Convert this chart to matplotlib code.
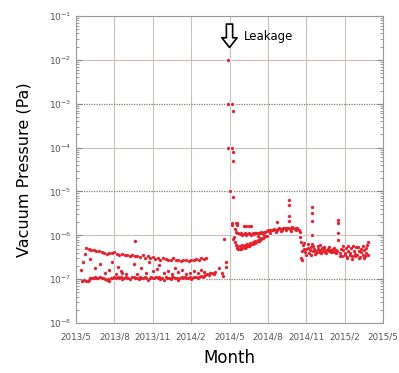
import numpy as np
import matplotlib
matplotlib.use('Agg')
import matplotlib.pyplot as plt

# x values are months counted from 2013/5, y values in Pa
tick_labels = ['2013/5', '2013/8', '2013/11', '2014/2', '2014/5',
               '2014/8', '2014/11', '2015/2', '2015/5']

# ---------------------------------------------------- first year, lower band (x1e-7)
low_m = [0.5, 0.6, 0.75, 0.9, 1.0, 1.1, 1.25, 1.4, 1.5, 1.6, 1.75, 1.9, 2.0, 2.1, 2.25,
         2.4, 2.5, 2.6, 2.75, 2.9, 3.0, 3.1, 3.25, 3.4, 3.5, 3.6, 3.75, 3.9, 4.0, 4.1,
         4.25, 4.4, 4.5, 4.6, 4.75, 4.9, 5.0, 5.1, 5.25, 5.4, 5.5, 5.6, 5.75, 5.9, 6.0,
         6.1, 6.25, 6.4, 6.5, 6.6, 6.75, 6.9, 7.0, 7.1, 7.25, 7.4, 7.5, 7.6, 7.75, 7.9,
         8.0, 8.1, 8.25, 8.4, 8.5, 8.6, 8.75, 8.9, 9.0, 9.1, 9.25, 9.4, 9.5, 9.6, 9.75,
         9.9, 10.0, 10.1, 10.25, 10.4, 10.5, 10.6, 10.75]
low_v = [0.92, 0.95, 0.9, 0.93, 0.97, 1.05, 1.08, 1.07, 1.1, 1.08, 1.06, 1.1, 1.07, 1.05,
         1.0, 0.95, 1.02, 0.9, 1.05, 1.08, 1.1, 1.04, 1.12, 1.06, 1.1, 1.0, 1.08, 1.1,
         1.05, 1.07, 1.02, 1.1, 1.12, 1.08, 1.05, 1.0, 1.1, 1.06, 1.08, 1.12, 1.04, 0.98,
         1.07, 1.1, 1.05, 1.08, 1.1, 1.06, 1.12, 1.02, 1.08, 0.95, 1.1, 1.05, 1.08, 1.0,
         1.1, 1.12, 1.06, 1.08, 0.97, 1.05, 1.1, 1.07, 1.12, 1.04, 1.08, 1.1, 1.02, 1.06,
         1.1, 1.12, 1.05, 1.15, 1.2, 1.1, 1.18, 1.25, 1.3, 1.22, 1.35, 1.4, 1.3]

# ---------------------------------------------------- first year, upper band (x1e-7)
up_m = [0.8, 1.0, 1.2, 1.4, 1.6, 1.8, 2.0, 2.2, 2.4, 2.6, 2.8, 3.0, 3.2, 3.4, 3.6, 3.8,
        4.0, 4.2, 4.4, 4.6, 4.8, 5.0, 5.2, 5.4, 5.6, 5.8, 6.0, 6.2, 6.4, 6.6, 6.8, 7.0,
        7.2, 7.4, 7.6, 7.8, 8.0, 8.2, 8.4, 8.6, 8.8, 9.0, 9.2, 9.4, 9.6, 9.8, 10.0, 10.2]
up_v = [5.2, 4.9, 4.7, 4.6, 4.5, 4.3, 4.2, 4.0, 3.8, 4.0, 3.9, 4.1, 3.7, 3.6, 3.8, 3.5,
        3.6, 3.4, 3.5, 3.3, 3.4, 3.2, 3.6, 3.1, 3.3, 3.0, 3.2, 2.9, 3.1, 2.8, 3.0, 2.9,
        2.7, 2.8, 3.0, 2.7, 2.8, 2.6, 2.8, 2.7, 2.6, 2.8, 2.7, 2.9, 2.8, 3.1, 2.9, 3.0]

# ---------------------------------------------------- first year, scattered (x1e-7)
sc_m = [0.4, 0.55, 0.7, 1.1, 1.5, 1.9, 2.3, 2.6, 2.8, 3.1, 3.3, 3.5, 3.6, 3.9, 4.6, 4.5,
        4.8, 5.1, 5.5, 5.7, 6.0, 6.3, 6.5, 6.9, 7.2, 7.5, 7.7, 8.0, 8.3, 8.6, 8.9, 9.2,
        9.5, 9.8, 10.0, 10.9, 11.2, 11.4, 11.5, 11.6, 11.7, 11.75]
sc_v = [1.6, 2.4, 3.7, 2.9, 1.8, 2.2, 1.4, 1.6, 2.5, 1.3, 1.9, 1.5, 1.4, 1.3, 7.6, 2.2,
        1.3, 1.8, 1.4, 2.4, 1.5, 1.7, 2.1, 1.35, 1.5, 1.3, 1.8, 1.45, 1.6, 1.3, 1.4, 1.5,
        1.35, 1.6, 1.45, 1.45, 1.8, 1.4, 1.2, 8.3, 2.5, 1.9]

# ---------------------------------------------------- leakage (Pa)
leak_m = [11.85, 11.85, 12.2, 12.25, 11.9, 12.2, 12.25, 12.25, 12.05, 12.25, 12.2, 12.2]
leak_v = [1e-2, 1e-3, 1e-3, 7e-4, 1e-4, 1e-4, 8e-5, 5e-5, 1e-5, 7.5e-6, 1.9e-6, 1.7e-6]

# ---------------------------------------------------- after leakage, upper branch (x1e-6)
ub_m = [12.5, 12.6, 12.7, 12.8, 12.9, 13.0, 13.1, 13.2, 13.3, 13.4, 13.5, 13.6, 13.7,
        13.8, 13.9, 14.0, 14.1, 14.2, 14.3, 14.4, 14.5, 14.6, 14.7, 14.8, 14.9, 15.0,
        15.1, 15.2, 15.3, 15.4, 15.5, 15.6, 15.7, 15.8, 15.9, 16.0, 16.1, 16.2, 16.3,
        16.4, 16.5, 16.6, 16.7, 16.8, 16.9, 17.0, 17.1, 17.2, 17.3, 17.4, 17.5, 17.55,
        17.6, 15.2, 15.6, 16.0, 16.4, 16.8, 17.2, 14.6, 14.2]
ub_v = [1.2, 1.1, 1.15, 1.05, 1.1, 1.0, 1.05, 1.1, 1.0, 1.05, 1.1, 1.05, 1.0, 1.1, 1.05,
        1.1, 1.15, 1.1, 1.12, 1.15, 1.2, 1.15, 1.22, 1.2, 1.25, 1.3, 1.25, 1.3, 1.35, 1.3,
        1.4, 1.35, 1.3, 1.4, 1.45, 1.4, 1.35, 1.45, 1.5, 1.4, 1.45, 1.5, 1.4, 1.45, 1.55,
        1.5, 1.4, 1.45, 1.5, 1.35, 1.2, 0.9, 0.7, 1.15, 1.2, 1.25, 1.3, 1.25, 1.3, 1.05,
        0.98]

# ---------------------------------------------------- after leakage, lower branch (x1e-7)
lb_m = [12.5, 12.6, 12.7, 12.8, 12.9, 13.0, 13.1, 13.2, 13.3, 13.4, 13.5, 13.6, 13.7,
        13.8, 13.9, 14.0, 14.1, 14.2, 14.3, 14.4, 14.5, 14.6, 14.7, 14.8, 14.9, 12.6,
        12.8, 13.0, 13.2, 13.4, 13.6, 13.8, 14.0, 14.2, 14.4, 12.3, 12.35, 12.4]
lb_v = [6.0, 5.2, 5.0, 4.8, 5.0, 5.1, 5.3, 5.2, 5.5, 5.6, 5.8, 6.0, 6.2, 6.4, 6.6, 6.8,
        7.0, 7.3, 7.6, 7.9, 8.2, 8.6, 9.0, 9.4, 9.8, 5.8, 5.6, 5.9, 6.0, 6.3, 6.6, 7.0,
        7.4, 8.0, 8.5, 8.3, 9.0, 7.0]

# ---------------------------------------------------- after leakage, isolated high points (x1e-7)
hi_m = [12.45, 12.5, 12.55, 12.6, 13.1, 13.3, 13.5, 13.7, 15.7, 16.65, 16.65, 16.65,
        16.65, 18.45, 18.45, 18.45, 18.45, 20.5, 20.5, 20.5, 20.5]
hi_v = [14, 19, 19, 17, 16.5, 16.5, 16, 16.5, 20, 63, 50, 27, 21, 45, 33, 21, 10, 22,
        19, 11, 8]

# ---------------------------------------------------- after drop, band 2014/10 - 2015/1 (x1e-7)
b1_m = [17.6, 17.65, 17.7, 17.8, 17.9, 18.0, 18.1, 18.2, 18.3, 18.4, 18.5, 18.6, 18.7,
        18.8, 18.9, 19.0, 19.1, 19.2, 19.3, 19.4, 19.5, 19.6, 19.7, 19.8, 19.9, 20.0,
        20.1, 20.2, 20.3, 20.4, 17.75, 17.95, 18.15, 18.35, 18.55, 18.75, 18.95, 19.15,
        19.35, 19.55, 19.75, 19.95, 20.15, 20.35, 17.85, 18.45, 19.05]
b1_v = [3.0, 2.8, 4.5, 5.0, 4.2, 4.8, 5.2, 4.0, 4.6, 5.5, 4.3, 4.9, 3.8, 4.5, 5.0, 4.2,
        4.7, 5.1, 4.4, 4.8, 4.1, 4.6, 5.0, 4.3, 4.7, 4.5, 4.9, 4.2, 4.6, 4.4, 6.0, 3.6,
        6.5, 3.5, 5.8, 4.0, 5.6, 3.9, 5.5, 4.0, 5.3, 4.1, 5.2, 4.0, 6.8, 6.2, 5.9]

# ---------------------------------------------------- band 2015/1 - 2015/3 (x1e-7)
b2_m = [20.6, 20.7, 20.8, 20.9, 21.0, 21.1, 21.2, 21.3, 21.4, 21.5, 21.6, 21.7, 21.8,
        21.9, 22.0, 22.1, 22.2, 22.3, 22.4, 22.5, 22.6, 22.7, 22.8, 20.65, 20.85, 21.05,
        21.25, 21.45, 21.65, 21.85, 22.05, 22.25, 22.45, 22.65, 22.8, 22.75, 21.15, 21.55,
        22.15, 22.55]
b2_v = [3.4, 5.0, 3.3, 4.6, 3.5, 5.2, 3.2, 4.4, 3.6, 5.1, 3.3, 4.5, 3.4, 5.3, 3.5, 4.3,
        3.2, 5.0, 3.6, 4.6, 3.3, 5.2, 3.5, 4.0, 5.8, 3.9, 5.6, 4.0, 5.7, 3.8, 5.5, 4.1,
        5.6, 3.9, 7.0, 6.0, 3.0, 2.95, 3.0, 3.05]

x = np.concatenate([low_m, up_m, sc_m, leak_m, ub_m, lb_m, hi_m, b1_m, b2_m])
y = np.concatenate([np.array(low_v) * 1e-7, np.array(up_v) * 1e-7, np.array(sc_v) * 1e-7,
                    leak_v, np.array(ub_v) * 1e-6, np.array(lb_v) * 1e-7,
                    np.array(hi_v) * 1e-7, np.array(b1_v) * 1e-7, np.array(b2_v) * 1e-7])

########################################## figure
fig = plt.figure(figsize=(3.99, 3.73), dpi=100, facecolor='white')
ax = fig.add_axes([0.1905, 0.134, 0.7694, 0.823])
ax.set_yscale('log')
ax.set_xlim(0, 24)
ax.set_ylim(1e-8, 1e-1)

# grid: light solid, darker dotted at odd decades
for i in range(9):
    ax.axvline(i * 3, color='#cbbfb8', lw=0.8, zorder=0)
for e in range(-8, 0):
    if e in (-3, -5, -7):
        ax.axhline(10.0 ** e, color='#8c7f78', lw=0.9, ls=(0, (1, 1)), zorder=0)
    else:
        ax.axhline(10.0 ** e, color='#cbbfb8', lw=0.8, zorder=0)

# faint cyan halo then red points
ax.plot(x, y, 'o', color='#e3f3f9', ms=4.2, mec='none', zorder=1)
ax.plot(x, y, 'o', color='#e8202a', ms=2.3, mec='none', zorder=2)

ax.set_xticks(range(0, 25, 3))
ax.set_xticklabels(tick_labels, fontsize=6.3, color='#555555')
ax.tick_params(axis='x', length=0, pad=7)
ax.set_yticks([10.0 ** e for e in range(-8, 0)])
ax.set_yticklabels([r'$10^{%d}$' % e for e in range(-8, 0)], fontsize=6.5, color='#555555')
ax.tick_params(axis='y', which='both', direction='in', right=True, color='#888888')
ax.tick_params(axis='y', which='major', length=4)
ax.tick_params(axis='y', which='minor', length=2)
for s in ax.spines.values():
    s.set_color('#9a9a9a')

ax.set_ylabel('Vacuum Pressure (Pa)', fontsize=11.5, labelpad=12)
ax.set_xlabel('Month', fontsize=12, labelpad=5)

########################################## leakage arrow
ax.annotate('', xy=(12.0, 10 ** -1.78), xytext=(12.0, 10 ** -1.12),
            arrowprops=dict(arrowstyle='simple,head_width=1.1,head_length=0.7,tail_width=0.45',
                            fc='white', ec='black', lw=1.2))
ax.text(13.1, 10 ** -1.47, 'Leakage', fontsize=8.5, va='center', ha='left')

fig.savefig('out.png', dpi=100)
